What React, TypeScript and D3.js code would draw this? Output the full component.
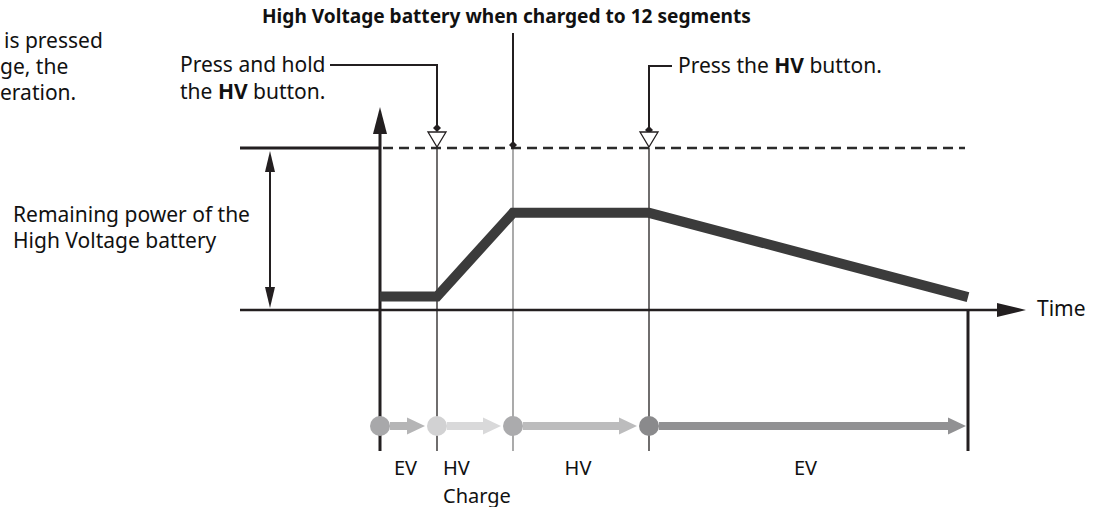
import React from "react";
import * as d3 from "d3";

// ---- data ----
const phaseTimes = [0, 57, 133, 269, 588]; // event times (start, hold HV, charged, press HV, end)
const phaseLabels = [["EV"], ["HV", "Charge"], ["HV"], ["EV"]];
const batteryTimes = [0, 57, 133, 269, 588];
const batteryLevels = [1, 1, 7.2, 7.2, 0.95];
const maxLevel = 12;
const circleColors = ["#a8a8aa", "#d2d2d3", "#ababad", "#8a8a8c"];
const arrowColors = ["#b5b5b6", "#d9d9da", "#bcbcbd", "#919193"];
const introLines = ["is pressed", "ge, the", "eration."];
const introStarts = [4, 0, 0];
const sideLabel = ["Remaining power of the", "High Voltage battery"];
const title = "High Voltage battery when charged to 12 segments";

const W = 1094;
const H = 507;
const FONT = "'Noto Sans', 'DejaVu Sans', sans-serif";
const INK = "#231f20";

export default function App() {
  const x = d3.scaleLinear().domain([0, 588]).range([380, 968]);
  const y = d3.scaleLinear().domain([0, maxLevel]).range([310, 148]);
  const yTop = y(maxLevel);
  const y0 = y(0);
  const rowY = 426;
  const bottomY = 451;

  const pts: [number, number][] = batteryTimes.map((t, i) => [x(t), y(batteryLevels[i])]);
  const line = d3.line()(pts) || "";

  const xHold = x(phaseTimes[1]);
  const xFull = x(phaseTimes[2]);
  const xPress = x(phaseTimes[3]);
  const xEnd = x(phaseTimes[4]);

  const diamond = (cx: number, cy: number, r = 4) =>
    `M${cx},${cy - r}L${cx + r},${cy}L${cx},${cy + r}L${cx - r},${cy}Z`;
  const tri = (cx: number, tipY: number) =>
    `M${cx - 9},${tipY - 15}L${cx + 9},${tipY - 15}L${cx},${tipY}Z`;

  const textStyle: React.CSSProperties = { fontFamily: FONT, fontSize: 21, fill: "#111" };

  return (
    <svg width={W} height={H} style={{ position: "absolute", left: 0, top: 0, background: "#fff" }}>
      <rect x={0} y={0} width={W} height={H} fill="#fff" />

      {/* title */}
      <text x={262} y={23} style={{ ...textStyle, fontSize: 19.1, fontWeight: 700 }}>{title}</text>
      <line x1={xFull} x2={xFull} y1={33} y2={yTop - 3} stroke={INK} strokeWidth={2} />

      {/* intro text (continues off the left edge) */}
      {introLines.map((s, i) => (
        <text key={i} x={introStarts[i]} y={48 + i * 26} style={textStyle}>{s}</text>
      ))}

      {/* side label */}
      {sideLabel.map((s, i) => (
        <text key={i} x={13} y={222 + i * 25.5} style={textStyle}>{s}</text>
      ))}

      {/* thin event lines */}
      <line x1={xHold} x2={xHold} y1={yTop} y2={bottomY} stroke={INK} strokeWidth={1.3} />
      <line x1={xFull} x2={xFull} y1={yTop} y2={bottomY} stroke="#7d7d7d" strokeWidth={1.3} />
      <line x1={xPress} x2={xPress} y1={yTop} y2={bottomY} stroke={INK} strokeWidth={1.3} />

      {/* max level line */}
      <line x1={240} x2={x(0)} y1={yTop} y2={yTop} stroke={INK} strokeWidth={3} />
      <line x1={x(0) + 3} x2={965} y1={yTop} y2={yTop} stroke="#2b2b2b" strokeWidth={2.6} strokeDasharray="10,6" />

      {/* baseline / time axis */}
      <line x1={240} x2={1000} y1={y0} y2={y0} stroke={INK} strokeWidth={2.5} />
      <path d={`M${997},${y0 - 7}L${1026},${y0}L${997},${y0 + 7}Z`} fill={INK} />
      <text x={1037} y={316} style={textStyle}>Time</text>

      {/* vertical axis */}
      <line x1={x(0)} x2={x(0)} y1={130} y2={bottomY} stroke={INK} strokeWidth={3} />
      <path d={`M${x(0) - 7},${134}L${x(0)},${107}L${x(0) + 7},${134}Z`} fill={INK} />

      {/* end line */}
      <line x1={xEnd} x2={xEnd} y1={y0} y2={bottomY} stroke={INK} strokeWidth={3} />

      {/* double arrow */}
      <line x1={270} x2={270} y1={yTop + 10} y2={y0 - 10} stroke={INK} strokeWidth={2} />
      <path d={`M${265},${172}L${270},${151}L${275},${172}Z`} fill={INK} />
      <path d={`M${265},${287}L${270},${308}L${275},${287}Z`} fill={INK} />

      {/* battery line */}
      <path d={line} fill="none" stroke="#3b3b3b" strokeWidth={10} strokeLinejoin="miter" strokeLinecap="butt" />

      {/* callout: press and hold */}
      <text x={180} y={72} style={textStyle}>Press and hold</text>
      <text x={180} y={99} style={textStyle}>
        the <tspan fontWeight={700}>HV</tspan> button.
      </text>
      <path d={`M330,65H${xHold}V128`} fill="none" stroke={INK} strokeWidth={2} />
      <path d={diamond(xHold, 128)} fill={INK} />
      <path d={tri(xHold, 147)} fill="#fff" stroke={INK} strokeWidth={1.3} />

      {/* callout: press HV */}
      <text x={678} y={73} style={textStyle}>
        Press the <tspan fontWeight={700}>HV</tspan> button.
      </text>
      <path d={`M672,66H${xPress}V130`} fill="none" stroke={INK} strokeWidth={2} />
      <path d={diamond(xPress, 130)} fill={INK} />
      <path d={tri(xPress, 147)} fill="#fff" stroke={INK} strokeWidth={1.3} />

      {/* full-charge diamond */}
      <path d={diamond(xFull, yTop - 3)} fill={INK} />

      {/* phase arrows */}
      {phaseLabels.map((lab, i) => {
        const xs = x(phaseTimes[i]);
        const xe = x(phaseTimes[i + 1]) - (i < 3 ? 12 : 2);
        const r = 10;
        const headL = 18;
        return (
          <g key={i}>
            <rect x={xs + r} y={rowY - 4} width={Math.max(0, xe - headL - xs - r + 1)} height={8} fill={arrowColors[i]} />
            <path d={`M${xe - headL},${rowY - 8.5}L${xe},${rowY}L${xe - headL},${rowY + 8.5}Z`} fill={arrowColors[i]} />
            <circle cx={xs} cy={rowY} r={r} fill={circleColors[i]} />
          </g>
        );
      })}

      {/* phase labels */}
      {phaseLabels.map((lab, i) => {
        const xs = x(phaseTimes[i]);
        const xe = x(phaseTimes[i + 1]);
        const isStart = lab.length > 1;
        const tx = isStart ? xs + 6 : (xs + xe) / 2 - 3;
        return lab.map((s, j) => (
          <text key={`${i}-${j}`} x={tx} y={475 + j * 27.5} textAnchor={isStart ? "start" : "middle"} style={{ ...textStyle, fontSize: 20 }}>
            {s}
          </text>
        ));
      })}
    </svg>
  );
}
